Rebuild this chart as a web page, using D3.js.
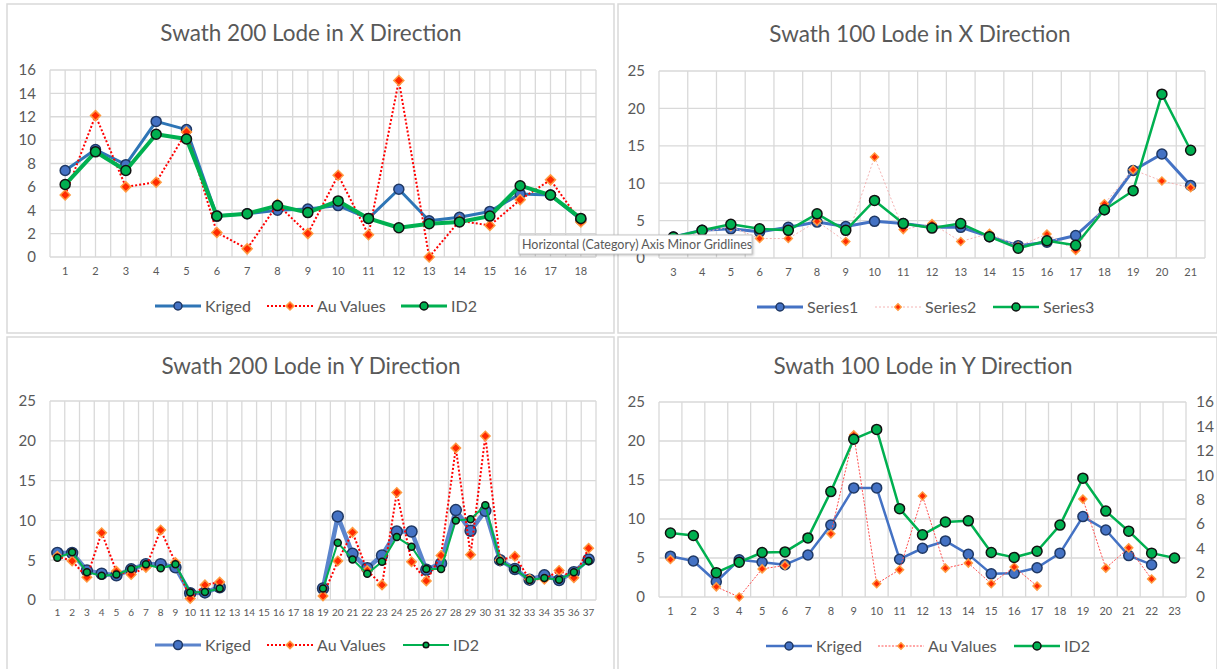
<!DOCTYPE html>
<html>
<head>
  <meta charset="utf-8">
  <title>Swath plots</title>
  <script src="https://d3js.org/d3.v7.min.js"></script>
  <style>
    body { margin: 0; background: #fff; }
    text { font-family: Lato, "Open Sans", sans-serif; fill: #595959; }
  </style>
</head>
<body>
<svg id="chart" width="1217" height="669"></svg>
<script>
// ---- data ----
var p1Cats = d3.range(1, 19);
var p1Kriged = [7.4, 9.2, 7.9, 11.6, 10.9, 3.5, 3.7, 4.0, 4.1, 4.4, 3.3, 5.8, 3.1, 3.4, 3.9, 5.4, 5.3, 3.2];
var p1Au     = [5.3, 12.1, 6.0, 6.4, 10.7, 2.1, 0.7, 4.5, 2.0, 7.0, 1.9, 15.1, 0.0, 3.1, 2.7, 4.9, 6.6, 3.0];
var p1ID2    = [6.2, 9.0, 7.4, 10.5, 10.1, 3.5, 3.7, 4.4, 3.8, 4.8, 3.3, 2.5, 2.85, 3.0, 3.5, 6.1, 5.3, 3.3];

var p2Cats = d3.range(3, 22);
var p2Series1 = [2.8, 3.7, 3.9, 3.5, 4.1, 4.8, 4.2, 4.9, 4.6, 4.1, 4.1, 2.85, 1.65, 2.1, 3.0, 6.45, 11.7, 13.9, 9.7];
var p2Series2 = [2.6, 3.4, 4.2, 2.6, 2.6, 4.9, 2.2, 13.5, 3.8, 4.6, 2.2, 3.3, 1.55, 3.2, 1.0, 7.25, 11.8, 10.3, 9.4];
var p2Series3 = [2.8, 3.7, 4.5, 3.9, 3.7, 5.9, 3.7, 7.7, 4.6, 4.0, 4.6, 2.85, 1.3, 2.3, 1.7, 6.45, 9.0, 21.9, 14.4];

var p3Cats = d3.range(1, 38);
var p3Kriged = [5.9, 5.9, 3.7, 3.3, 3.1, 3.85, 4.5, 4.5, 4.1, 0.85, 0.95, 1.6,
  null, null, null, null, null, null,
  1.45, 10.5, 5.8, 4.0, 5.6, 8.6, 8.6, 3.8, 4.6, 11.3, 8.7, 11.2, 5.0, 3.9, 2.55, 3.1, 2.5, 3.5, 5.1];
var p3Au = [5.5, 4.9, 2.85, 8.45, 3.6, 3.2, 4.1, 8.8, 4.7, 0.2, 1.9, 2.25,
  null, null, null, null, null, null,
  0.5, 4.9, 8.5, 3.7, 1.9, 13.5, 4.8, 2.4, 5.6, 19.1, 5.7, 20.6, 5.0, 5.5, 2.6, 2.6, 3.7, 2.8, 6.5];
var p3ID2 = [5.3, 6.0, 3.5, 3.05, 3.2, 3.9, 4.5, 4.0, 4.5, 0.95, 1.0, 1.45,
  null, null, null, null, null, null,
  1.45, 7.2, 5.1, 3.3, 4.8, 7.9, 6.7, 3.9, 3.9, 10.0, 10.15, 11.9, 4.9, 3.9, 2.5, 2.75, 2.55, 3.5, 4.9];

var p4Cats = d3.range(1, 24);
// Kriged and ID2 use the right hand axis (0-16), Au Values the left one (0-25)
var p4Kriged = [3.35, 2.95, 1.25, 3.05, 2.85, 2.65, 3.45, 5.9, 8.95, 8.95, 3.1, 4.0, 4.6, 3.5, 1.9, 1.95, 2.4, 3.6, 6.6, 5.5, 3.4, 2.65, null];
var p4Au     = [4.8, null, 1.3, 0, 3.6, 4.05, null, 8.1, 20.8, 1.7, 3.5, 12.95, 3.7, 4.35, 1.7, 3.85, 1.4, null, 12.55, 3.7, 6.3, 2.3, null];
var p4ID2    = [5.25, 5.05, 2.0, 2.85, 3.65, 3.7, 4.85, 8.65, 12.95, 13.75, 7.25, 5.1, 6.15, 6.25, 3.65, 3.25, 3.75, 5.9, 9.75, 7.05, 5.4, 3.6, 3.2];

var svg = d3.select("#chart");
var gridCol = "#d9d9d9";

function drawPanel(p) {
  var g = svg.append("g");

  // panel frame
  g.append("rect")
    .attr("x", p.box[0]).attr("y", p.box[1])
    .attr("width", p.box[2]).attr("height", p.box[3])
    .attr("fill", "#fff").attr("stroke", gridCol).attr("stroke-width", 1.5);

  g.append("text")
    .attr("x", p.titleX).attr("y", p.titleY)
    .attr("text-anchor", "middle")
    .attr("font-size", "22.5px")
    .text(p.title);

  var x = d3.scaleBand().domain(p.cats).range([p.plot[0], p.plot[1]]).padding(0);
  var y = d3.scaleLinear().domain([0, p.yMax]).range([p.plot[3], p.plot[2]]);
  var y2 = p.y2Max ? d3.scaleLinear().domain([0, p.y2Max]).range([p.plot[3], p.plot[2]]) : null;
  var cx = function(i) { return x(p.cats[i]) + x.bandwidth() / 2; };

  // gridlines
  var grid = g.append("g").attr("stroke", gridCol).attr("stroke-width", 1.3);
  d3.range(0, p.yMax + p.yStep / 2, p.yStep).forEach(function(v) {
    grid.append("line")
      .attr("x1", p.plot[0]).attr("x2", p.plot[1])
      .attr("y1", y(v)).attr("y2", y(v));
  });
  var vx = p.cats.map(function(c) { return x(c); }).concat([p.plot[1]]);
  if (p.minorX) vx = vx.concat(p.cats.map(function(c, i) { return cx(i); }));
  vx.forEach(function(v) {
    grid.append("line")
      .attr("x1", v).attr("x2", v)
      .attr("y1", p.plot[2]).attr("y2", p.plot[3]);
  });

  // axes
  var ya = g.append("g")
    .attr("transform", "translate(" + p.plot[0] + ",0)")
    .call(d3.axisLeft(y).tickValues(d3.range(0, p.yMax + p.yStep / 2, p.yStep)).tickSize(0).tickPadding(14));
  ya.select(".domain").remove();
  ya.selectAll("text").attr("font-size", "15px").attr("fill", "#595959").attr("font-family", "Lato");

  if (y2) {
    var ya2 = g.append("g")
      .attr("transform", "translate(" + p.plot[1] + ",0)")
      .call(d3.axisRight(y2).tickValues(d3.range(0, p.y2Max + 1, p.y2Step)).tickSize(0).tickPadding(10));
    ya2.select(".domain").remove();
    ya2.selectAll("text").attr("font-size", "15.5px").attr("fill", "#595959").attr("font-family", "Lato");
  }

  var xa = g.append("g")
    .attr("transform", "translate(0," + p.plot[3] + ")")
    .call(d3.axisBottom(x).tickSize(0).tickPadding(p.xPad));
  xa.select(".domain").remove();
  xa.selectAll("text").attr("font-size", p.xFont).attr("fill", "#595959").attr("font-family", "Lato");

  // series
  p.series.forEach(function(s) {
    var sy = s.right ? y2 : y;
    var line = d3.line()
      .defined(function(d) { return d != null; })
      .x(function(d, i) { return cx(i); })
      .y(function(d) { return sy(d); });
    g.append("path")
      .datum(s.values)
      .attr("fill", "none")
      .attr("stroke", s.color)
      .attr("stroke-width", s.width)
      .attr("stroke-dasharray", s.dash || null)
      .attr("stroke-linejoin", "round")
      .attr("d", line);

    var pts = s.values.map(function(v, i) { return { v: v, i: i }; })
      .filter(function(d) { return d.v != null; });
    drawMarkers(g, pts, s, function(d) { return cx(d.i); }, function(d) { return sy(d.v); });
  });

  // legend
  var leg = g.append("g");
  p.series.forEach(function(s, k) {
    var lx = p.legendX[k], ly = p.legendY;
    leg.append("line")
      .attr("x1", lx).attr("x2", lx + 46)
      .attr("y1", ly).attr("y2", ly)
      .attr("stroke", s.color)
      .attr("stroke-width", Math.min(s.width, 3))
      .attr("stroke-dasharray", s.dash || null);
    drawMarkers(leg, [{}], s, function() { return lx + 23; }, function() { return ly; }, 0.8);
    leg.append("text")
      .attr("x", lx + 50).attr("y", ly + 5.5)
      .attr("font-size", "16px")
      .text(s.name);
  });
}

function drawMarkers(g, pts, s, fx, fy, scale) {
  scale = scale || 1;
  if (s.marker === "circle") {
    g.selectAll(null).data(pts).enter().append("circle")
      .attr("cx", fx).attr("cy", fy)
      .attr("r", s.r * scale)
      .attr("fill", s.mFill)
      .attr("stroke", s.mStroke)
      .attr("stroke-width", 1.5);
  } else {
    var sym = d3.symbol(d3.symbolSquare, s.size * scale * scale);
    g.selectAll(null).data(pts).enter().append("path")
      .attr("d", sym)
      .attr("transform", function(d) { return "translate(" + fx(d) + "," + fy(d) + ") rotate(45)"; })
      .attr("fill", "#ff2a00")
      .attr("stroke", "#ff9a40")
      .attr("stroke-width", 1.5);
  }
}

drawPanel({
  box: [7, 4, 607, 329],
  title: "Swath 200 Lode in X Direction", titleX: 311, titleY: 41,
  plot: [50, 596, 70, 257],
  cats: p1Cats, yMax: 16, yStep: 2, minorX: true,
  xFont: "11px", xPad: 10,
  legendX: [155, 267, 401], legendY: 306,
  series: [
    { name: "Kriged", values: p1Kriged, color: "#2e75b6", width: 3, marker: "circle", r: 5, mFill: "#4472c4", mStroke: "#1f3864" },
    { name: "Au Values", values: p1Au, color: "#ff0000", width: 2, dash: "2,2", marker: "diamond", size: 50 },
    { name: "ID2", values: p1ID2, color: "#00b050", width: 4, marker: "circle", r: 5, mFill: "#00b050", mStroke: "#111" }
  ]
});

drawPanel({
  box: [618, 4, 599, 329],
  title: "Swath 100 Lode in X Direction", titleX: 920, titleY: 42,
  plot: [659, 1205, 71, 258],
  cats: p2Cats, yMax: 25, yStep: 5,
  xFont: "11px", xPad: 10,
  legendX: [757, 875, 993], legendY: 307,
  series: [
    { name: "Series1", values: p2Series1, color: "#4472c4", width: 3, marker: "circle", r: 5, mFill: "#4472c4", mStroke: "#1f3864" },
    { name: "Series2", values: p2Series2, color: "#f4b4b4", width: 1, dash: "2,2", marker: "diamond", size: 32 },
    { name: "Series3", values: p2Series3, color: "#00b050", width: 2.5, marker: "circle", r: 5, mFill: "#00b050", mStroke: "#111" }
  ]
});

drawPanel({
  box: [7, 337, 607, 340],
  title: "Swath 200 Lode in Y Direction", titleX: 311, titleY: 374,
  plot: [50, 596, 401, 600],
  cats: p3Cats, yMax: 25, yStep: 5,
  xFont: "10px", xPad: 9,
  legendX: [155, 267, 403], legendY: 645,
  series: [
    { name: "Kriged", values: p3Kriged, color: "#5b84cc", width: 4.5, marker: "circle", r: 5.5, mFill: "#4472c4", mStroke: "#1f3864" },
    { name: "Au Values", values: p3Au, color: "#ff0000", width: 2, dash: "2,2", marker: "diamond", size: 45 },
    { name: "ID2", values: p3ID2, color: "#00b050", width: 2, marker: "circle", r: 3.5, mFill: "#00b050", mStroke: "#111" }
  ]
});

drawPanel({
  box: [618, 337, 599, 340],
  title: "Swath 100 Lode in Y Direction", titleX: 923, titleY: 374,
  plot: [659, 1186, 402, 597],
  cats: p4Cats, yMax: 25, yStep: 5, y2Max: 16, y2Step: 2,
  xFont: "11px", xPad: 10,
  legendX: [766, 878, 1014], legendY: 646,
  series: [
    { name: "Kriged", values: p4Kriged, right: true, color: "#4472c4", width: 2.5, marker: "circle", r: 5, mFill: "#4472c4", mStroke: "#1f3864" },
    { name: "Au Values", values: p4Au, color: "#ff5050", width: 1, dash: "2,1.5", marker: "diamond", size: 32 },
    { name: "ID2", values: p4ID2, right: true, color: "#00b050", width: 2.5, marker: "circle", r: 5, mFill: "#00b050", mStroke: "#111" }
  ]
});

// hover tooltip that sits on the screenshot
var tip = svg.append("g");
tip.append("rect")
  .attr("x", 519).attr("y", 235).attr("width", 233).attr("height", 19)
  .attr("fill", "#fff").attr("stroke", "#c8c8c8")
  .style("filter", "drop-shadow(1px 1px 1px rgba(0,0,0,0.25))");
tip.append("text")
  .attr("x", 522).attr("y", 249)
  .attr("font-size", "12.5px")
  .text("Horizontal (Category) Axis Minor Gridlines");
</script>
</body>
</html>
